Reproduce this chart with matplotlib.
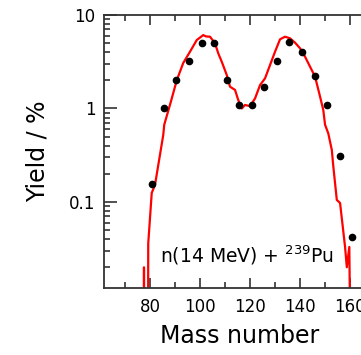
import matplotlib
matplotlib.use("Agg")
import matplotlib.pyplot as plt
from matplotlib.ticker import LogLocator, NullFormatter, FixedLocator, MultipleLocator

# measured yields (points)
mass_pts = [80.7, 85.5, 90.5, 95.6, 100.7, 105.7, 110.7, 115.7, 120.7,
            125.7, 130.8, 135.7, 140.8, 145.9, 150.8, 156.0, 160.9]
yield_pts = [0.155, 1.0, 2.0, 3.2, 5.0, 5.0, 2.0, 1.1, 1.1,
             1.7, 3.2, 5.1, 4.0, 2.2, 1.1, 0.31, 0.042]

# calculated yield curve
mass_calc = [77.5, 77.6, 77.7, 79.2, 79.3, 80.7, 82.0, 85.3, 85.7, 88.3,
             90.7, 93.3, 96.0, 98.7, 101.3, 102.4, 104.0, 106.0, 107.3, 108.7,
             110.7, 112.0, 114.0, 115.3, 116.7, 118.0, 120.0, 122.0, 124.0, 126.0,
             128.0, 130.0, 132.0, 134.0, 136.0, 138.0, 140.0, 142.0, 144.0, 146.0,
             148.0, 149.3, 150.0, 151.3, 152.7, 153.3, 154.7, 156.0, 158.0, 158.7,
             159.7, 160.3]
yield_calc = [0.001, 0.020, 0.001, 0.001, 0.036, 0.125, 0.152, 0.52, 0.67, 1.17,
              2.0, 3.07, 4.05, 5.4, 6.1, 5.9, 5.86, 4.98, 3.89, 3.16,
              2.28, 1.71, 1.58, 1.23, 1.0, 1.09, 1.06, 1.28, 1.78, 2.1,
              2.92, 4.05, 5.5, 5.86, 5.63, 5.06, 4.4, 3.58, 2.8, 2.19,
              1.34, 0.96, 0.67, 0.54, 0.36, 0.24, 0.105, 0.0975, 0.033, 0.020,
              0.033, 0.001]

fig = plt.figure(figsize=(3.61, 3.55), dpi=100)
ax = fig.add_axes([0.288, 0.1887, 0.751, 0.769])

ax.plot(mass_calc, yield_calc, color="#ff0000", lw=1.6, zorder=2)
ax.plot(mass_pts, yield_pts, "o", color="black", ms=4.5, zorder=3)

ax.set_yscale("log")
ax.set_xlim(61.6, 170)
ax.set_ylim(0.012, 10)

ax.xaxis.set_major_locator(FixedLocator([80, 100, 120, 140, 160]))
ax.xaxis.set_minor_locator(MultipleLocator(10))
ax.yaxis.set_major_locator(FixedLocator([0.1, 1, 10]))
ax.yaxis.set_minor_locator(LogLocator(base=10, subs=range(2, 10)))
ax.yaxis.set_minor_formatter(NullFormatter())
ax.set_yticklabels(["0.1", "1", "10"])

for s in ax.spines.values():
    s.set_linewidth(1.3)
    s.set_color("#333333")

ax.tick_params(axis="both", which="both", direction="in", color="#333333",
               top=True, right=False, labelsize=12, width=1.2)
ax.tick_params(axis="x", which="major", length=7, pad=7)
ax.tick_params(axis="x", which="minor", length=4.5)
ax.tick_params(axis="y", which="major", length=9, pad=6)
ax.tick_params(axis="y", which="minor", length=4.5)

ax.set_xlabel("Mass number", fontsize=17)
ax.set_ylabel("Yield / %", fontsize=17, labelpad=14)
ax.xaxis.set_label_coords(0.5, -0.13)

ax.text(118.8, 0.027, r"n(14 MeV) + $^{239}$Pu", fontsize=13.5,
        ha="center", va="center")

fig.savefig("out.png", dpi=100)
